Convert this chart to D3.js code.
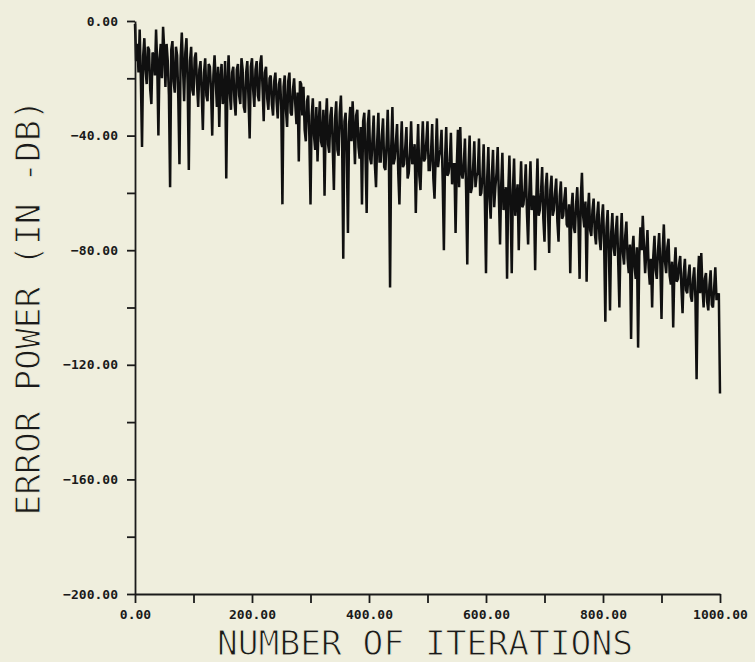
<!DOCTYPE html>
<html>
<head>
<meta charset="utf-8">
<script src="https://cdn.jsdelivr.net/npm/d3@7"></script>
<style>
  html, body { margin: 0; padding: 0; background: #efeedd; }
  svg { display: block; }
</style>
</head>
<body>
<svg id="chart" width="755" height="662"></svg>
<script>
// Learning curve of the adaptive filter: error power per iteration (dB)
const iterations = d3.range(0, 1001, 2);
const errorPowerDb = [
  // 0 - 98
  -1, -14, -8, -18, -3, -20, -44, -12, -6, -17, -22, -9, -10, -24, -29, -11, -12, -19, -3, -15,
  -40, -13, -8, -20, -2, -10, -23, -8, -14, -26, -58, -10, -7, -21, -25, -9, -12, -27, -50, -13,
  -4, -16, -28, -11, -6, -22, -52, -14, -9, -24,
  // 100 - 198
  -26, -13, -11, -22, -30, -17, -14, -25, -38, -18, -13, -26, -28, -15, -16, -24, -40, -19, -12, -21,
  -30, -16, -37, -20, -15, -29, -27, -14, -55, -22, -12, -25, -31, -18, -16, -28, -33, -17, -15, -26,
  -29, -13, -17, -30, -32, -18, -14, -27, -41, -16,
  // 200 - 298
  -13, -24, -30, -17, -14, -26, -28, -15, -12, -23, -35, -18, -16, -27, -31, -20, -19, -29, -33, -21,
  -18, -28, -34, -22, -20, -30, -64, -23, -19, -31, -37, -21, -18, -32, -33, -24, -20, -29, -36, -25,
  -49, -21, -22, -33, -23, -38, -42, -28, -26, -40,
  // 300 - 398
  -64, -33, -27, -40, -45, -30, -49, -36, -28, -42, -44, -31, -61, -35, -27, -43, -46, -33, -30, -44,
  -59, -34, -28, -45, -47, -32, -26, -41, -83, -35, -32, -46, -74, -36, -30, -42, -28, -38, -50, -33,
  -31, -44, -48, -37, -64, -35, -32, -47, -67, -36,
  // 400 - 498
  -31, -48, -50, -41, -33, -50, -58, -42, -32, -49, -49, -40, -34, -51, -52, -43, -31, -47, -93, -44,
  -30, -50, -48, -42, -36, -53, -64, -45, -35, -51, -50, -44, -37, -55, -53, -46, -35, -50, -48, -43,
  -67, -48, -36, -54, -59, -45, -35, -49, -48, -42,
  // 500 - 598
  -35, -52, -52, -46, -36, -55, -62, -47, -34, -51, -47, -45, -38, -56, -80, -48, -37, -54, -53, -49,
  -39, -57, -50, -50, -74, -51, -38, -58, -37, -53, -55, -50, -41, -59, -85, -52, -40, -60, -58, -51,
  -42, -58, -54, -53, -41, -61, -60, -54, -43, -62,
  // 600 - 698
  -88, -55, -44, -62, -69, -54, -45, -65, -58, -53, -44, -61, -78, -57, -46, -66, -60, -58, -90, -60,
  -47, -64, -88, -59, -48, -68, -62, -57, -80, -61, -49, -65, -64, -59, -50, -67, -78, -60, -49, -66,
  -62, -61, -87, -62, -48, -68, -66, -60, -51, -69,
  // 700 - 798
  -77, -58, -53, -66, -81, -59, -54, -68, -66, -60, -55, -70, -77, -61, -56, -69, -68, -62, -58, -71,
  -72, -64, -88, -66, -60, -72, -74, -64, -58, -70, -90, -62, -53, -68, -72, -63, -91, -67, -60, -73,
  -75, -66, -62, -74, -78, -68, -63, -76, -80, -69,
  // 800 - 898
  -64, -78, -105, -72, -66, -80, -101, -74, -67, -79, -82, -73, -68, -84, -100, -76, -67, -81, -85, -75,
  -70, -83, -88, -78, -111, -80, -75, -86, -90, -79, -114, -82, -72, -80, -68, -78, -88, -81, -73, -86,
  -92, -83, -100, -82, -75, -87, -90, -80, -74, -85,
  // 900 - 1000
  -104, -80, -71, -84, -88, -79, -76, -89, -92, -84, -107, -87, -79, -91, -90, -85, -82, -93, -102, -88,
  -83, -94, -95, -89, -85, -96, -98, -90, -86, -97, -125, -91, -82, -95, -81, -93, -100, -90, -88, -98,
  -101, -92, -87, -99, -100, -93, -86, -97, -97, -95, -130
];

const xTicks = d3.range(0, 1001, 100);
const xTickLabels = [0, 200, 400, 600, 800, 1000];
const yTicks = d3.range(-200, 1, 20);
const yTickLabels = [-200, -160, -120, -80, -40, 0];

const xTitle = "NUMBER OF ITERATIONS";
const yTitle = "ERROR POWER (IN -DB)";

const ink = "#1a1a1a";
const paper = "#efeedd";

const svg = d3.select("#chart");

const x = d3.scaleLinear().domain([0, 1000]).range([135, 720]);
const y = d3.scaleLinear().domain([-200, 0]).range([594, 21]);

const fmt = d3.format(".2f");

// Data trace, drawn with a broad pen
const data = iterations.map((it, i) => ({ it, v: errorPowerDb[i] }));
svg.append("path")
  .datum(data)
  .attr("fill", "none")
  .attr("stroke", "#101010")
  .attr("stroke-width", 2.5)
  .attr("stroke-linejoin", "miter")
  .attr("stroke-miterlimit", 2)
  .attr("d", d3.line().x(d => x(d.it)).y(d => y(d.v)));

// Axes
const xAxis = d3.axisBottom(x)
  .tickValues(xTicks)
  .tickFormat(d => xTickLabels.includes(d) ? fmt(d) : "")
  .tickSize(9)
  .tickSizeOuter(0)
  .tickPadding(7);

const yAxis = d3.axisLeft(y)
  .tickValues(yTicks)
  .tickFormat(d => yTickLabels.includes(d) ? fmt(d) : "")
  .tickSize(8)
  .tickSizeOuter(0)
  .tickPadding(9);

function styleAxis(g) {
  g.select(".domain").attr("stroke", ink).attr("stroke-width", 1.8);
  g.selectAll(".tick line").attr("stroke", ink).attr("stroke-width", 1.8);
  g.selectAll(".tick text")
    .attr("fill", ink)
    .style("font-family", "'DejaVu Sans Mono', monospace")
    .style("font-weight", "bold")
    .style("font-size", "13px");
}

svg.append("g")
  .attr("transform", `translate(0,${y(-200)})`)
  .call(xAxis)
  .call(styleAxis);

svg.append("g")
  .attr("transform", `translate(${x(0)},0)`)
  .call(yAxis)
  .call(styleAxis);

// Axis titles in a thin plotter-style lettering
function title(sel) {
  sel.attr("fill", ink)
    .attr("stroke", paper)
    .attr("stroke-width", 1.0)
    .attr("text-anchor", "middle")
    .attr("textLength", 416)
    .attr("lengthAdjust", "spacingAndGlyphs")
    .style("font-family", "'DejaVu Sans Mono', monospace")
    .style("font-size", "34px");
}

svg.append("text")
  .attr("x", 425)
  .attr("y", 655)
  .text(xTitle)
  .call(title);

svg.append("text")
  .attr("transform", `translate(40,${(y(0) + y(-200)) / 2}) rotate(-90)`)
  .text(yTitle)
  .call(title);
</script>
</body>
</html>
